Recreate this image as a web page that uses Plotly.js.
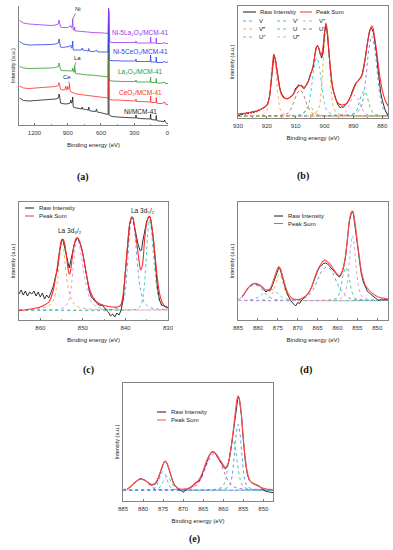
<!DOCTYPE html>
<html><head><meta charset="utf-8">
<script src="https://cdn.plot.ly/plotly-3.0.1.min.js"></script>
<style>html,body{margin:0;padding:0;background:#fff}#chart{width:393px;height:550px}</style>
</head><body><div id="chart"></div>
<script>
// ---------- (a) XPS survey spectra ----------
const blackX = [1335,1300,1250,1200,1150,1100,1050,1010,985,978,972,965,950,920,890,878,872,868,860,855,851,845,820,790,775,770,765,740,715,710,705,690,660,650,640,635,610,580,560,545,536,531,527,520,500,450,400,350,300,287,284,280,250,200,160,155,152,148,110,104,101,97,80,50,30,25,20,10,0,-5];
const blackY = [27,24.5,24,24.5,25,25,25.5,26,27,31,28,22,21.5,21,21.5,22,25,22,22.5,28,19,17.5,17,16.5,16,18,16,15.5,15,18,14.5,14,13.5,13.5,16,13,12.5,11.5,11,10.5,10.5,112,10,9.5,8.5,8,7.5,7,7,7,10,7,6.5,6,6,6,11,5.5,5,5,9.5,4.5,4,3.5,3.5,5,3,2,1.5,1.2];
const redX = [1335,1300,1250,1200,1100,1050,1010,985,978,972,965,950,925,917,912,905,900,895,888,884,880,870,850,820,790,760,720,680,640,600,570,545,536,531,527,520,500,450,400,350,300,287,284,280,250,200,155,152,148,104,101,97,80,50,25,20,0,-5];
const redY = [39,37,36.5,37,37.5,38,38.5,39.5,42.5,40,35.5,35,35.5,39,35,35.5,38.5,36,36.5,41,35,33,32,31,30.5,30,29.5,29,28.5,28,27.5,27,27,114,26.5,25.5,25,25,24.5,24.5,24,24,26,23.5,23.5,23,23,29,22.5,22.5,27.5,22,21.5,21.5,23,21,20.5,20.3];
const greenX = [1335,1300,1250,1200,1100,1050,1010,985,978,972,965,950,900,870,858,855,852,846,841,838,834,830,800,760,720,680,640,600,570,545,536,531,527,520,500,400,300,287,284,280,200,155,152,148,104,101,97,50,25,20,0,-5];
const greenY = [58.5,57,56.5,56.5,56.5,57,57.5,58.5,62,59.5,55,54.5,54,54,54,57,53,52.5,53,59,56,51.5,51,50.5,50,50,49.5,49,48.5,48,48,114,47,44.5,44,43.5,43.5,43.5,45,43,43,43,47.5,42.5,42.5,46.5,42,42,43,41.5,41.5,41.3];
const blueX = [1335,1300,1250,1200,1100,1050,1010,985,978,972,965,950,917,900,885,872,868,860,855,851,845,820,790,775,770,765,740,715,710,705,690,660,640,635,610,580,560,545,536,531,527,520,500,400,300,287,284,280,200,155,152,148,104,101,97,50,25,20,0,-5];
const blueY = [83.5,81,80,80,80,80.5,81,82,86,83,78,77.5,78,78.5,78.5,80,77,77.5,84,75,75,75.5,75,75,77,75,74.5,74,76.5,74,73.5,73.5,75,73.5,73,73,73,73,73,116,66,64.5,64.3,64,64,64,66,63.5,63.5,63.5,70,63,63,68,62.5,62.5,63.5,62.5,63,63];
const purpleX = [1335,1300,1250,1200,1150,1100,1050,1010,985,978,972,965,950,900,872,868,860,855,851,846,841,838,834,820,790,760,720,680,640,600,570,545,536,531,527,520,500,400,300,287,284,280,200,155,152,148,104,101,97,50,25,20,0,-5];
const purpleY = [104.5,102,101,100.5,100,99.5,99.5,100,101,105,102,98,97.5,97.5,99.5,97,97.5,106,95,94.5,95,98,94,94,93.5,93.5,93,92.5,92.5,92,92,91.5,91.5,117,90,83,82.5,82.5,82.5,82.5,84,82,82,82,88,82,82,87,81.5,81.5,82.5,81.5,81.5,81.5];
const surveyNames = ['Ni/MCM-41','CeO₂/MCM-41','La₂O₃/MCM-41','Ni-5CeO₂/MCM-41','Ni-5La₂O₃/MCM-41'];
const surveyTicks = [1200,900,600,300,0];

// ---------- (b) Ce 3d ----------
const bRawX = [930,929.5,929,928.5,928,927.5,927,926.5,926,925.5,925,924.5,924,923.5,923,922.5,922,921.5,921,920.5,920,919.5,919,918.5,918,917.5,917,916.5,916,915.5,915,914.5,914,913.5,913,912.5,912,911.5,911,910.5,910,909.5,909,908.5,908,907.5,907,906.5,906,905.5,905,904.5,904,903.5,903,902.5,902,901.5,901,900.5,900,899.5,899,898.5,898,897.5,897,896.5,896,895.5,895,894.5,894,893.5,893,892.5,892,891.5,891,890.5,890,889.5,889,888.5,888,887.5,887,886.5,886,885.5,885,884.5,884,883.5,883,882.5,882,881.5,881,880.5,880,879.5,879,878.5,878];
const bRawY = [3.5,2.5,4.5,3,5,3.5,5.5,4,6,4.5,6.5,5,7,6,8,7.5,9,9.5,10.5,11,13,16,22,36,52,63,58,47,38,30,25,22,20.5,19.5,19,19.5,20.5,21.5,23,26,30,31,33.5,32,33,30,29.5,32,35,38,43,46,50,60,70,72.5,70,64,60,66,85,93,84,66,48,36,28,22,18.5,14,12.5,10,11.5,10.5,12.5,13.5,15.5,18,21.5,26,30,33,35.5,36.5,38.5,40,43,50,58,68,78,86,90,89,85,76,65,50,35,25,18,12,8,5,2];
const bSumX = [930,926,923,921,920,919.5,919,918.5,918,917.6,917,916.5,916,915.5,915,914,913,912,911,910,909,908.5,908,907,906,905,904,903,902.6,902,901.3,900.8,900,899.5,899,898.5,898,897,896,895,894,893,892,891,890,889,888,887,886,885,884,883.5,883,882,881,880,879,878];
const bSumY = [4,5.5,7.5,10.5,13,16.5,23,37,53,64,58,47,37,29,24,20,19.5,20.5,23,28,32,32.5,32,31,34,42,52,68,72,70,63,66,86,95,86,68,50,28,18,14,13,13.5,16,21,28,35,38.5,43,57,77,90,92,87,68,45,28,18,12];
const bVx = [930,893.6,889.6,887.6,886.6,885.6,884.6,883.6,882.6,881.6,880.6,879.6,878];
const bVy = [2,2.8,4.4,9.2,19.6,42,69.2,82,69.2,42,19.6,9.2,4.4];
const bV1x = [930,895.0,891.6,889.8,888.9,888.1,887.2,886.3,885.4,884.6,883.7,882.8,881.1,878];
const bV1y = [2,2.25,2.75,4.25,7.5,14.5,23,27,23,14.5,7.5,4.25,2.75,2.2];
const bV2x = [930,899.5,895.5,893.5,892.5,891.5,890.5,889.5,888.5,887.5,886.5,885.5,883.5,879.5,878];
const bV2y = [2,2.2,2.6,3.9,6.6,12.5,19.6,23,19.6,12.5,6.6,3.9,2.6,2.2,2.1];
const bV3x = [930,905.9,903.3,902.0,901.35,900.7,900.05,899.4,898.75,898.1,897.45,896.8,895.5,892.9,878];
const bV3y = [2,2.85,4.55,9.65,20.7,44.5,73.4,87,73.4,44.5,20.7,9.65,4.55,2.85,2];
const bUx = [930,911.7,908.1,906.3,905.4,904.5,903.6,902.7,901.8,900.9,900.0,899.1,897.3,893.7,878];
const bUy = [2,2.6,3.7,7.2,14.8,31,50.7,60,50.7,31,14.8,7.2,3.7,2.6,2];
const bU1x = [930,919.8,915.3,913.0,911.9,910.8,909.6,908.5,907.4,906.3,905.1,904.0,901.8,897.3,878];
const bU1y = [2,2.3,2.8,4.3,7.7,15,23.8,28,23.8,15,7.7,4.3,2.8,2.3,2];
const bU2x = [930,912.8,909.8,908.3,907.55,906.8,906.05,905.3,904.55,903.8,903.05,902.3,900.8,897.8,878];
const bU2y = [2,2.1,2.3,2.9,4.2,7,10.4,12,10.4,7,4.2,2.9,2.3,2.1,2];
const bU3x = [930,923.6,921.2,920.0,919.4,918.8,918.2,917.6,917.0,916.4,915.8,915.2,914.0,911.6,878];
const bU3y = [2,2.6,3.8,7.4,15.2,32,52.4,62,52.4,32,15.2,7.4,3.8,2.6,2];
const bCompNames = ['V','V′','V″','V‴','U','U′','U″','U‴'];
const bTicks = [930,920,910,900,890,880];

// ---------- (c) La 3d ----------
const cRawX = [865,864.5,864,863.5,863,862.5,862,861.5,861,860.5,860,859.5,859,858.5,858,857.5,857,856.5,856,855.5,855,854.7,854.5,854,853.5,853.2,853,852.5,852,851.5,851.2,851,850.5,850,849.5,849,848.5,848,847.5,847,846.5,846,845.5,845,844.5,844,843.5,843,842.5,842,841.5,841,840.5,840,839.5,839,838.5,838.2,838,837.5,837,836.5,836.2,836,835.5,835,834.5,834.2,834,833.5,833,832.5,832,831.5,831,830.5,830];
const cRawY = [26,30,25,29,24,28,26,29,24,28,23,27,21,25,22,28,33,42,50,68,79,81,77,68,58,52,56,66,76,81,82,80,75,66,52,39,29,23,20,18,16,14.5,15,12,10,8,4,6,3,7,5,10,22,49,76,97,103,102,96,84,75,69,70,77,89,99,103,103,99,83,59,33,20,15,14,13,12.5];
const cSumX = [865,863,861,860,859,858,857.5,857,856.5,856,855.5,855,854.7,854.3,854,853.5,853.2,853,852.5,852,851.5,851,850.5,850,849.5,849,848.5,848,847,846,845,844,843,842,841.5,841,840.5,840,839.5,839,838.5,838.2,838,837.5,837,836.7,836.4,836,835.5,835,834.5,834.2,834,833.5,833,832.5,832,831.5,831,830.5,830];
const cSumY = [9.3,10.5,12,13,15,18,22,29,40,53,68,80,81,77,69,52,46,47,62,76,82,81,75,66,54,42,32,26,19,16,14.5,13.5,13,13,13.5,16,27,49,75,96,103,102,97,82,66,56,50,55,80,97,103.5,103,99,84,63,42,27,19,15,13.5,12.5];
const cOrX = [865,860,858,857,856.5,856,855.6,855.2,854.9,854.6,854.2,853.8,853.4,853,852.5,852,851,849,845,830];
const cOrY = [10.3,11.5,14,19,26,38,56,73,80,74,58,42,31,24,19,16,13,11.2,10.4,10];
const cViX = [865,857,855,854,853.5,853,852.6,852.2,851.8,851.3,850.8,850.3,849.8,849.3,848.8,848.2,847.5,846.5,845,842,830];
const cViY = [10,10.3,11.5,14,18,25,38,56,72,82,75,62,48,36,27,20,15.5,12.8,11.2,10.4,10];
const cBlX = [865,845,842,841,840.5,840,839.6,839.2,838.8,838.4,838,837.6,837.2,836.8,836.4,836,835.5,834.5,833,830];
const cBlY = [10,10.3,11.5,14,19,30,50,76,96,103,96,78,56,40,29,22,17,13,11.2,10.5];
const cGrX = [865,838,837,836.5,836,835.6,835.2,834.8,834.4,834,833.6,833.2,832.8,832.4,832,831.5,830.8,830];
const cGrY = [10,10.3,11.5,14,20,33,55,85,100,93,75,55,38,26,19,15,12.5,11.5];
const cTicks = [860,850,840,830];

// ---------- (d) Ni 2p ----------
const dRawX = [884,883.5,883,882.5,882,881.5,881,880.5,880,879.5,879,878.5,878,877.5,877,876.5,876,875.5,875,874.7,874.5,874,873.5,873,872.5,872,871.5,871,870.5,870,869.5,869,868.5,868,867.5,867,866.5,866,865.5,865,864.5,864,863.5,863,862.5,862,861.5,861,860.5,860,859.5,859,858.5,858,857.5,857,856.5,856.2,856,855.5,855,854.5,854,853.5,853,852.5,852,851.5,851,850.5,850,849.5,849,848.5,848,847.3];
const dRawY = [22.7,26,29,32,34,35.5,36.5,36,35.5,34.5,33,30.5,28,29.5,29,33,39,45,50,52.5,52,46,38,30,25,21,18,15.5,14,17.5,16.5,20,21.5,23.5,25.5,28.5,33,39,44,49,53,55,56.5,57,56,54,52,49.5,47,44.5,43,46,52,62,80,99,107,108.5,106,93,76,60,46,38,33.5,29,27,25,23.5,22,20.5,19.5,21,20,20.5,20];
const dSumX = [884,883,882,881,880,879,878,877.5,877,876.5,876,875.5,875,874.7,874.3,874,873.5,873,872.5,872,871,870,869,868,867,866.5,866,865.5,865,864,863.3,863,862,861,860,859.5,859,858.5,858,857.5,857,856.5,856.2,856,855.5,855,854.5,854,853.5,853,852,851,850,849,848,847.3];
const dSumY = [22.7,29,34,36.5,36,33.5,30,30,31,35,41,47,52,53.5,51,47,40,33,27.5,24,21,20.5,21.5,24,29,33,39,45,50,57,60,59.5,56.5,51,45.5,44.5,47,53,64,81,100,108,109,107,95,78,63,49,41,35,29.5,26,23.5,22.2,21.5,21.3];
const dViX = [885,862,860,859,858.3,857.8,857.3,856.9,856.5,856.2,855.9,855.5,855.1,854.6,854.1,853.4,852,850,847.3];
const dViY = [19.5,19.7,20.5,22,25,31,45,63,79,84.5,79,63,45,31,25,22,20.5,19.8,19.5];
const dGrX = [885,863.4,861.2,860.1,859.55,859.0,858.45,857.9,857.35,856.8,856.25,855.7,854.6,852.4,847.3];
const dGrY = [19.5,19.8,20.5,22.5,26.8,36,47.2,52.5,47.2,36,26.8,22.5,20.5,19.8,19.5];
const dBlX = [885,872,869,867.5,866.2,865.2,864.2,863.4,862.7,862,861.2,860.2,859.2,857.9,856.4,853,847.3];
const dBlY = [19.5,19.8,21,24,30,38,47,51.5,52.7,51.5,47,38,30,24,21,19.8,19.5];
const dOrX = [885,880,878,877,876.3,875.7,875.2,874.6,874,873.5,872.9,872.2,871.2,869,847.3];
const dOrY = [19.5,19.8,20.8,23,27,34,41,46,41,34,27,23,20.8,19.8,19.5];
const dCyX = [885,883,881,879.8,879,878.2,877.5,876.9,876.3,875.6,874.8,874,872.8,870.5,847.3];
const dCyY = [19.5,19.9,21,23,25.5,28.5,30.5,31,30.5,28.5,25.5,23,21,19.9,19.5];
const dSatX = [885,884,883.2,882.4,881.6,880.8,880,879.2,878.4,877.6,876.5,874.5,870,847.3];
const dSatY = [20.5,23,27.5,31.5,34,35,34,31.5,27.5,24,21.5,20,19.5,19.5];
const niTicks = [885,880,875,870,865,860,855,850];

// ---------- (e) Ni 2p ----------
const eRawX = [884,883.5,883,882.5,882,881.5,881,880.5,880,879.5,879,878.5,878,877.5,877,876.5,876,875.5,875,874.7,874.4,874,873.5,873,872.5,872,871.5,871,870.5,870,869.5,869,868.5,868,867.5,867,866.5,866,865.5,865,864.5,864,863.5,863,862.5,862,861.5,861,860.5,860,859.5,859,858.5,858,857.5,857,856.6,856.3,856,855.5,855,854.5,854,853.5,853,852.5,852,851.5,851,850.5,850,849.5,849,848.5,848,847.6];
const eRawY = [11.7,13,15,17,19,21,22,22.7,22,21,19.5,17.5,16,16.5,17,20,25,31,37,40,40.5,38,32,25,19,15.5,13,11.5,10.5,9,10.5,12,13,14.5,16,18.5,19,20.5,24,30,36,42,46,49,50,48.5,45.5,42.5,38.5,35,32.5,35,42,55,70,88,102,106.5,104,88,62,40,27,21,19,18,17.5,16.5,15,13,11.5,10,9.5,9,9,8.5];
const eSumX = [884,883,882,881,880.5,880,879,878,877.5,877,876.5,876,875.5,875,874.5,874,873.5,873,872.5,872,871,870,869,868,867,866,865.5,865,864.5,864,863.5,863,862.6,862,861,860,859.5,859,858.5,858,857.5,857,856.6,856.3,856,855.5,855,854.5,854,853.5,853,852,851,850,849,848,847.6];
const eSumY = [11.7,15,19,22,22.5,22,19.5,17,17,18,21,26,32,37.5,40.5,38,32,25,19,15.5,12.5,12,12.5,14,17.5,22,26,31,37,42.5,46.5,49.5,50.5,49,43,36.5,34,36,43,56,72,90,103,107,104,89,64,43,29,22,19,16.5,14.5,13,12,11.7,11.5];
const eBlX = [885,861.3,859.3,858.3,857.8,857.3,856.8,856.3,855.8,855.3,854.8,854.3,853.3,851.3,847.6];
const eBlY = [11,11.7,13,17,25.7,44.5,67.3,78,67.3,44.5,25.7,17,13,11.7,11];
const eGrX = [885,863.6,861.2,860.0,859.4,858.8,858.2,857.6,857.0,856.4,855.8,855.2,854.0,851.6,847.6];
const eGrY = [11,11.5,12.5,15.6,22.2,36.5,53.8,62,53.8,36.5,22.2,15.6,12.5,11.5,11];
const eMaX = [885,874.8,869.8,867.3,866.05,864.8,863.55,862.3,861.05,859.8,858.55,857.3,854.8,849.8,847.6];
const eMaY = [11,11.4,12.1,14.3,19.1,29.5,42.1,48,42.1,29.5,19.1,14.3,12.1,11.4,11];
const eBl2X = [885,880.5,878.3,877.2,876.65,876.1,875.55,875.0,874.45,873.9,873.35,872.8,871.7,869.5,847.6];
const eBl2Y = [11,11.2,11.6,12.7,15.2,20.5,27,30,27,20.5,15.2,12.7,11.6,11.2,11];
const eGr2X = [885,880.0,877.6,876.4,875.8,875.2,874.6,874.0,873.4,872.8,872.2,871.6,870.4,868.0,847.6];
const eGr2Y = [11,11.1,11.4,12.3,14.1,18,22.8,25,22.8,18,14.1,12.3,11.4,11.1,11];
const eSatX = [885,883.5,882.5,881.5,880.5,879.5,878.5,877.5,876.5,874.5,870.5,847.6];
const eSatY = [11.6,13.5,16.8,20.7,22.5,20.7,16.8,13.5,12,11.4,11.1,11];

// ---------- build ----------
const W = 393, H = 550;
const px = v => v / W, py = v => 1 - v / H;
const FONT = 'Liberation Sans, Arial, Helvetica, DejaVu Sans, sans-serif';
const SERIF = 'Liberation Serif, DejaVu Serif, serif';
const RAW = '#1a1a1a', SUM = '#ff2a2a', SUM2 = '#ff4d4d';

const traces = [];
function line(x, y, xa, ya, color, name, opt) {
  opt = opt || {};
  const ln = {color, width:opt.w || 0.9, dash:opt.dash || 'solid', shape:opt.shape || 'linear'};
  if (opt.shape) ln.smoothing = 1;
  traces.push({type:'scatter', mode:'lines', x, y, xaxis:xa, yaxis:ya, name, line:ln, hoverinfo:'skip', showlegend:false});
}
function comp(x, y, xa, ya, color, name) { line(x, y, xa, ya, color, name, {dash:'dot', shape:'spline', w:0.9}); }

// (a)
const surveyCols = ['#1a1a1a','#ff2a2a','#2e9a2e','#2a3cf0','#a030f0'];
[[blackX,blackY],[redX,redY],[greenX,greenY],[blueX,blueY],[purpleX,purpleY]].forEach((s,i)=>line(s[0], s[1], 'x', 'y', surveyCols[i], surveyNames[i], {w:0.8}));

// (b)
const bCols = ['#5b8ff9','#3dbe6e','#d98cf0','#e8a838','#3cc6d0','#a0706e','#9cb43c','#f5a07a'];
[[bVx,bVy],[bV1x,bV1y],[bV2x,bV2y],[bV3x,bV3y],[bUx,bUy],[bU1x,bU1y],[bU2x,bU2y],[bU3x,bU3y]].forEach((c,i)=>comp(c[0], c[1], 'x2', 'y2', bCols[i], bCompNames[i]));
line(bRawX, bRawY, 'x2', 'y2', RAW, 'Raw Intensity');
line(bSumX, bSumY, 'x2', 'y2', SUM, 'Peak Sum', {shape:'spline', w:1.1});

// (c)
comp(cOrX, cOrY, 'x3', 'y3', '#f0a840', 'La 3d3/2 a');
comp(cViX, cViY, 'x3', 'y3', '#dc8cf0', 'La 3d3/2 b');
comp(cBlX, cBlY, 'x3', 'y3', '#5b9bf0', 'La 3d5/2 a');
comp(cGrX, cGrY, 'x3', 'y3', '#3cc8a8', 'La 3d5/2 b');
line(cRawX, cRawY, 'x3', 'y3', RAW, 'Raw Intensity');
line(cSumX, cSumY, 'x3', 'y3', SUM, 'Peak Sum', {shape:'spline', w:1.1});

// (d)
comp(dSatX, dSatY, 'x4', 'y4', '#6fa0ee', 'sat 2p1/2');
comp(dCyX, dCyY, 'x4', 'y4', '#40c8c8', 'Ni 2p1/2 b');
comp(dOrX, dOrY, 'x4', 'y4', '#e6b43c', 'Ni 2p1/2 a');
comp(dBlX, dBlY, 'x4', 'y4', '#5a8eea', 'sat 2p3/2');
comp(dGrX, dGrY, 'x4', 'y4', '#3cc878', 'Ni 2p3/2 b');
comp(dViX, dViY, 'x4', 'y4', '#da8cf0', 'Ni 2p3/2 a');
line(dRawX, dRawY, 'x4', 'y4', RAW, 'Raw Intensity');
line(dSumX, dSumY, 'x4', 'y4', SUM2, 'Peak Sum', {shape:'spline', w:1.1});

// (e)
comp(eSatX, eSatY, 'x5', 'y5', '#b070e0', 'sat 2p1/2');
comp(eGr2X, eGr2Y, 'x5', 'y5', '#40c8a0', 'Ni 2p1/2 b');
comp(eBl2X, eBl2Y, 'x5', 'y5', '#5a9af0', 'Ni 2p1/2 a');
comp(eMaX, eMaY, 'x5', 'y5', '#e040e8', 'sat 2p3/2');
comp(eGrX, eGrY, 'x5', 'y5', '#3ec28e', 'Ni 2p3/2 b');
comp(eBlX, eBlY, 'x5', 'y5', '#4e8ceb', 'Ni 2p3/2 a');
line(eRawX, eRawY, 'x5', 'y5', RAW, 'Raw Intensity');
line(eSumX, eSumY, 'x5', 'y5', SUM2, 'Peak Sum', {shape:'spline', w:1.1});

// axes
const tickFont = {family:FONT, size:6, color:'#333'};
function xAx(l, r, anchor, range, tickvals, minor, mirror) {
  const a = {domain:[px(l), px(r)], anchor, range, autorange:false, tickmode:'array', tickvals,
    ticks:'inside', ticklen:2.5, tickwidth:0.8, tickcolor:'#555', showline:true, linecolor:'#666', linewidth:0.8,
    mirror, showgrid:false, zeroline:false, tickfont:tickFont, ticklabelstandoff:2,
    title:{text:'Binding energy (eV)', font:{family:FONT, size:6, color:'#222'}, standoff:7}};
  if (minor) a.minor = {dtick:minor, ticks:'inside', ticklen:1.5, tickwidth:0.6, tickcolor:'#555', showgrid:false};
  return a;
}
function yAx(t, b, anchor, range, mirror) {
  return {domain:[py(b), py(t)], anchor, range, autorange:false, showticklabels:false, ticks:'',
    showline:true, linecolor:'#666', linewidth:0.8, mirror, showgrid:false, zeroline:false,
    title:{text:'Intensity (a.u.)', font:{family:FONT, size:5.5, color:'#222'}, standoff:2}};
}

const shapes = [];
const annotations = [];
function legLine(x0, x1, y, color, dash) {
  shapes.push({type:'line', xref:'paper', yref:'paper', x0:px(x0), x1:px(x1), y0:py(y), y1:py(y), line:{color, width:dash ? 0.9 : 1, dash:dash || 'solid'}});
}
function txt(x, y, text, opt) {
  opt = opt || {};
  annotations.push({xref:'paper', yref:'paper', x:px(x), y:py(y), text, showarrow:false,
    xanchor:opt.xanchor || 'left', yanchor:'middle',
    font:{family:opt.family || FONT, size:opt.size || 6, color:opt.color || '#222'}});
}
function legend2(x, y, sumColor, dy) {
  legLine(x, x + 9, y, RAW); txt(x + 12, y, 'Raw Intensity');
  legLine(x, x + 9, y + dy, sumColor); txt(x + 12, y + dy, 'Peak Sum');
}

// (b) legend
legLine(243, 256, 12, RAW); txt(258, 12, 'Raw Intensity');
legLine(300, 312, 12, SUM); txt(314, 12, 'Peak Sum');
const bLegPos = [[243,21],[277,21],[303,21],[243,29],[277,29],[303,29],[243,37],[277,37]];
bLegPos.forEach((p,i)=>{ legLine(p[0], p[0] + 12, p[1], bCols[i], 'dot'); txt(p[0] + 14, p[1], bCompNames[i]); });

legend2(25, 208, SUM, 8);
legend2(274, 216, SUM2, 7.5);
legend2(157, 412, SUM2, 8);

// survey labels
const surveyLabelY = [112, 93, 72, 51, 32];
surveyNames.forEach((n,i)=>txt(140, surveyLabelY[i], n, {xanchor:'center', size:6.5, color:surveyCols[i]}));
// element markers on the survey
const peakMarks = [['Ni', 855, 106, 5, -10], ['La', 838, 59, 3, -8], ['Ce', 884, 41, -2.5, -7]];
peakMarks.forEach(m=>annotations.push({xref:'x', yref:'y', x:m[1], y:m[2], text:m[0], showarrow:true, arrowhead:0, arrowwidth:0.6, arrowcolor:'#333', ax:m[3], ay:m[4], standoff:0, font:{family:FONT, size:6, color:'#222'}}));

// La labels
txt(70, 230, 'La 3d₃/₂', {xanchor:'center', size:6.5});
txt(143, 210, 'La 3d₅/₂', {xanchor:'center', size:6.5});

// panel labels
[['(a)',83,177],['(b)',303,176],['(c)',88,370],['(d)',306,370],['(e)',194,539]].forEach(p=>txt(p[1], p[2], '<b>'+p[0]+'</b>', {xanchor:'center', size:10, family:SERIF, color:'#111'}));

const layout = {
  width:W, height:H, margin:{l:0, r:0, t:0, b:0}, paper_bgcolor:'#fff', plot_bgcolor:'rgba(0,0,0,0)',
  showlegend:false, font:{family:FONT, size:6, color:'#222'},
  xaxis: xAx(19, 168, 'y', [1340, -5], surveyTicks, 150, false),
  yaxis: yAx(6, 125, 'x', [0, 119], false),
  xaxis2: xAx(238, 388, 'y2', [930, 878], bTicks, 5, true),
  yaxis2: yAx(6, 118, 'x2', [0, 112], true),
  xaxis3: xAx(19, 168, 'y3', [865, 830], cTicks, 5, true),
  yaxis3: yAx(202, 320, 'x3', [0, 118], true),
  xaxis4: xAx(238, 388, 'y4', [885, 847.3], niTicks, null, true),
  yaxis4: yAx(202, 320, 'x4', [0, 118], true),
  xaxis5: xAx(123, 273, 'y5', [885, 847.6], niTicks, null, true),
  yaxis5: yAx(383, 501, 'x5', [0, 120], true),
  shapes, annotations
};
Plotly.newPlot('chart', traces, layout, {displayModeBar:false, staticPlot:true});
</script></body></html>
